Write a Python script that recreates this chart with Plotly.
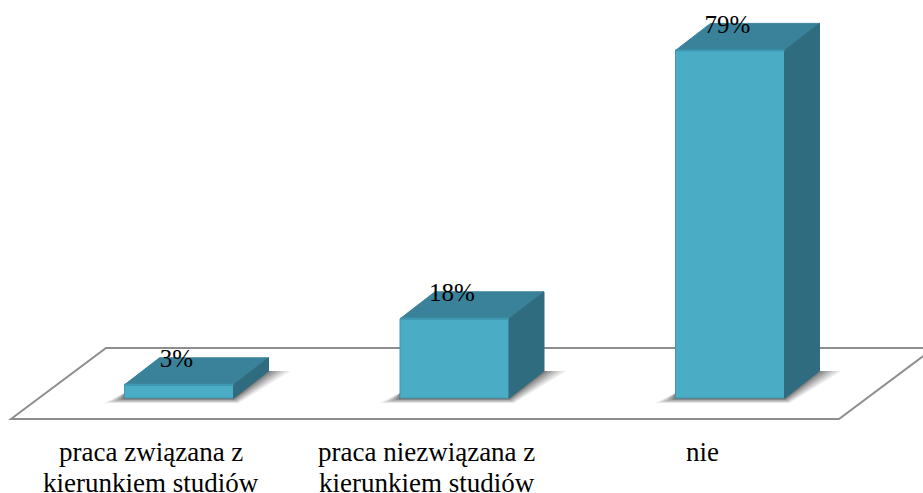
import plotly.graph_objects as go

# data
categories = ["praca związana z<br>kierunkiem studiów", "praca niezwiązana z<br>kierunkiem studiów", "nie"]
values = [3, 18, 79]
labels = ["3%", "18%", "79%"]

# geometry, in axis units
PX_X, PX_Y = 275.5, 4.40
W, H = 923, 493
BOTTOM = 68
X0, Y0 = 151, 398.0


def ux(px):
    return px / PX_X


def uy(px):
    return px / PX_Y


BAR_OFFSET = ux(-26.5)
BAR_W = ux(109)
DX, DY = ux(35), uy(27)
xs = list(range(len(values)))

FRONT, TOP, SIDE = "#4BACC6", "#3A8299", "#2F6C7F"
EDGE = "#3F98B1"


def path(points):
    return "M " + " L ".join(f"{x:.5f},{y:.5f}" for x, y in points) + " Z"


shapes = []
# floor
fx = lambda p: (p - X0) / PX_X
fy = lambda p: (Y0 - p) / PX_Y
floor = [(fx(11), fy(419)), (fx(106), fy(348)), (fx(934), fy(348)), (fx(839), fy(419))]
shapes.append(dict(type="path", path=path(floor), xref="x", yref="y", layer="below",
                   line=dict(color="#8E8E8E", width=2), fillcolor="white"))
# soft shadows under every bar
for x in xs:
    l = x + BAR_OFFSET
    r = l + BAR_W
    for grow, alpha in [(20, 0.10), (16, 0.13), (12, 0.16), (8, 0.2), (4, 0.25), (1, 0.3)]:
        g = grow
        pts = [
            (l - ux(g), -uy(0.2 * g + 1)),
            (l, uy(5)),
            (r, uy(5)),
            (r + DX, DY),
            (r + DX + ux(g * 1.1), DY),
            (r + ux(g * 0.25), -uy(0.2 * g + 1)),
        ]
        shapes.append(dict(type="path", path=path(pts), xref="x", yref="y", layer="below",
                           line=dict(width=0), fillcolor=f"rgba(60,60,60,{alpha})"))

fig = go.Figure()
fig.add_bar(x=xs, y=values, offset=BAR_OFFSET, width=BAR_W,
            marker=dict(color=FRONT, line=dict(color=EDGE, width=1)), hoverinfo="skip")

for x, v in zip(xs, values):
    l = x + BAR_OFFSET
    r = l + BAR_W
    fig.add_scatter(x=[l, l + DX, r + DX, r, l], y=[v, v + DY, v + DY, v, v], mode="lines",
                    fill="toself", fillcolor=TOP, line=dict(color=TOP, width=1), hoverinfo="skip")
    fig.add_scatter(x=[r, r + DX, r + DX, r, r], y=[0, DY, v + DY, v, 0], mode="lines",
                    fill="toself", fillcolor=SIDE, line=dict(color=SIDE, width=1), hoverinfo="skip")
    fig.add_scatter(x=[l, r], y=[v, v], mode="lines", line=dict(color=EDGE, width=2), hoverinfo="skip")

fig.add_scatter(x=[x + BAR_OFFSET + ux(52) for x in xs], y=[v + uy(24) for v in values],
                mode="text", text=labels, textposition="middle center",
                textfont=dict(family="Liberation Serif", size=25, color="black"), hoverinfo="skip")

annotations = []
for x, cat in zip(xs, categories):
    for i, line in enumerate(cat.split("<br>")):
        annotations.append(dict(x=x, xref="x", y=0, yref="paper", yanchor="middle", xanchor="center",
                                yshift=-27 - 31 * i, text=line, showarrow=False,
                                font=dict(family="Liberation Serif", size=27, color="black")))

fig.update_layout(
    width=W, height=H, margin=dict(l=0, r=0, t=0, b=BOTTOM),
    paper_bgcolor="white", plot_bgcolor="white", showlegend=False, shapes=shapes, annotations=annotations,
    xaxis=dict(range=[-X0 / PX_X, (W - X0) / PX_X], visible=False),
    yaxis=dict(range=[-(H - BOTTOM - Y0) / PX_Y, Y0 / PX_Y], visible=False),
)
fig.write_html("out.html", config=dict(displayModeBar=False),
               post_script="document.body.style.margin='0';document.body.style.overflow='hidden';")
